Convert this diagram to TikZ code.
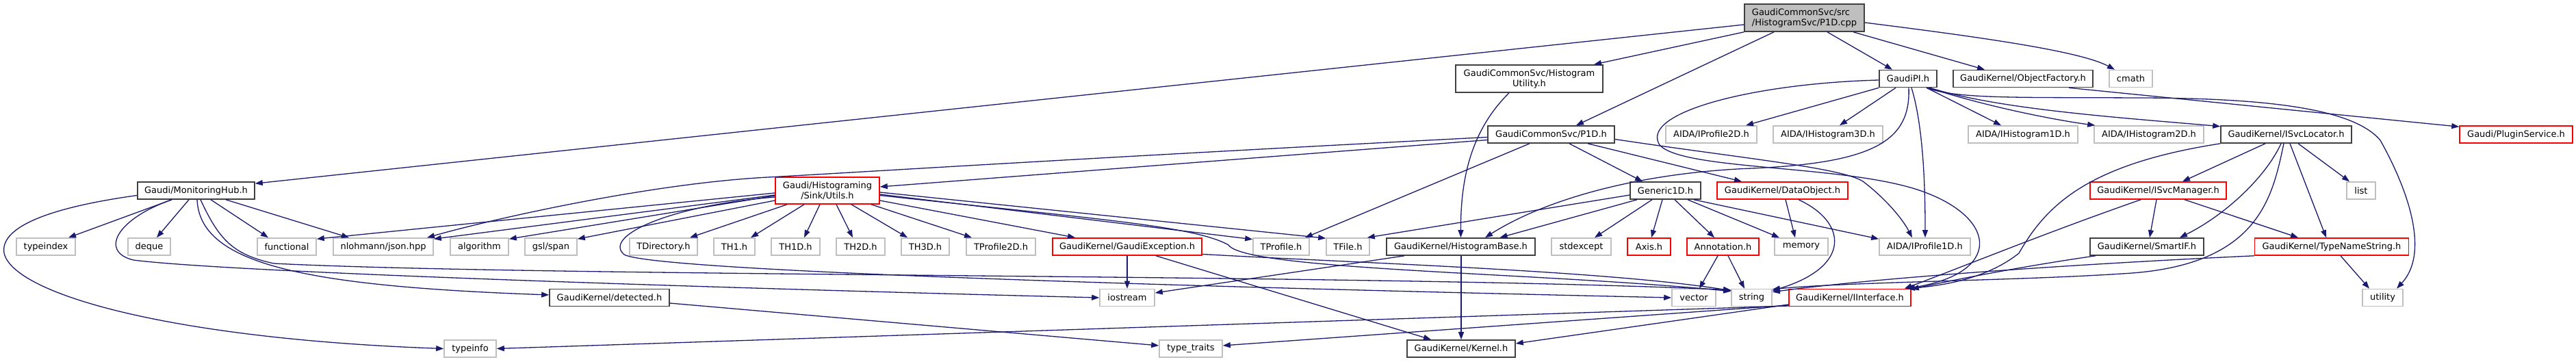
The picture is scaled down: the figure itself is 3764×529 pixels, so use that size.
\documentclass[tikz,border=0pt]{standalone}
\usepackage{fontspec}
\setmainfont{DejaVu Sans}
\usetikzlibrary{arrows.meta}
\definecolor{edgeblue}{HTML}{191970}
\definecolor{gborder}{HTML}{BFBFBF}
\definecolor{dborder}{HTML}{404040}
\definecolor{mainfill}{HTML}{BFBFBF}
\definecolor{tred}{HTML}{FF0000}
\tikzset{
  nb/.style={rectangle, draw, line width=1.6pt, inner sep=0pt, minimum height=25pt,
    font=\fontsize{13}{15}\selectfont, align=center, text=black},
  lk/.style={nb, draw=dborder},
  ex/.style={nb, draw=gborder},
  tr/.style={nb, draw=tred},
  mn/.style={nb, draw=dborder, fill=mainfill, align=left},
  dep/.style={draw=edgeblue, line width=1.3pt, -{Triangle[length=11pt,width=8pt]}}
}
\begin{document}
\begin{tikzpicture}[x=1pt,y=-1pt]
\useasboundingbox (0,0) rectangle (3764,529);
\fill[white] (0,0) rectangle (3764,529);

% ---- nodes ----
\node[mn, minimum width=175pt, minimum height=40pt] (main) at (2636.5,26) {GaudiCommonSvc/src\\/HistogramSvc/P1D.cpp};
\node[lk, minimum width=171pt] (hub) at (286.5,278.5) {Gaudi/MonitoringHub.h};
\node[lk, minimum width=215pt, minimum height=40pt] (hutil) at (2234.5,115) {GaudiCommonSvc/Histogram\\Utility.h};
\node[lk, minimum width=185pt] (p1dh) at (2266.5,196.5) {GaudiCommonSvc/P1D.h};
\node[lk, minimum width=84pt] (gpi) at (2788,115) {GaudiPI.h};
\node[lk, minimum width=204pt] (objf) at (2956,115) {GaudiKernel/ObjectFactory.h};
\node[ex, minimum width=63pt] (cmath) at (3113.5,115) {cmath};
\node[tr, minimum width=152pt, minimum height=39pt] (utils) at (1209,278.5) {Gaudi/Histograming\\/Sink/Utils.h};
\node[lk, minimum width=103pt] (gen1d) at (2433.5,278.5) {Generic1D.h};
\node[tr, minimum width=191pt] (dobj) at (2604.5,278.5) {GaudiKernel/DataObject.h};
\node[ex, minimum width=133pt] (iprof2d) at (2500.5,196.5) {AIDA/IProfile2D.h};
\node[ex, minimum width=160pt] (ih3d) at (2671,196.5) {AIDA/IHistogram3D.h};
\node[ex, minimum width=160pt] (ih1d) at (2956,196.5) {AIDA/IHistogram1D.h};
\node[ex, minimum width=160pt] (ih2d) at (3140,196.5) {AIDA/IHistogram2D.h};
\node[lk, minimum width=191pt] (isvcloc) at (3340.5,196.5) {GaudiKernel/ISvcLocator.h};
\node[tr, minimum width=165pt] (plugin) at (3676.5,196.5) {Gaudi/PluginService.h};
\node[tr, minimum width=199pt] (isvcman) at (3153.5,278.5) {GaudiKernel/ISvcManager.h};
\node[ex, minimum width=42pt] (list) at (3450,278.5) {list};
% row 5
\node[ex, minimum width=86pt] (typeindex) at (67,360.5) {typeindex};
\node[ex, minimum width=62pt] (deque) at (218,360.5) {deque};
\node[ex, minimum width=86pt] (functional) at (419,360.5) {functional};
\node[ex, minimum width=146pt] (json) at (560,360.5) {nlohmann/json.hpp};
\node[ex, minimum width=85pt] (algorithm) at (700.5,360.5) {algorithm};
\node[ex, minimum width=76pt] (gslspan) at (805,360.5) {gsl/span};
\node[ex, minimum width=99pt] (tdir) at (969.5,360.5) {TDirectory.h};
\node[ex, minimum width=60pt] (th1) at (1073,360.5) {TH1.h};
\node[ex, minimum width=71pt] (th1d) at (1162.5,360.5) {TH1D.h};
\node[ex, minimum width=71pt] (th2d) at (1257.5,360.5) {TH2D.h};
\node[ex, minimum width=70pt] (th3d) at (1352,360.5) {TH3D.h};
\node[ex, minimum width=101pt] (tprof2d) at (1462.5,360.5) {TProfile2D.h};
\node[tr, minimum width=218pt] (gexc) at (1647,360.5) {GaudiKernel/GaudiException.h};
\node[ex, minimum width=82pt] (tprof) at (1872,360.5) {TProfile.h};
\node[ex, minimum width=63pt] (tfile) at (1969.5,360.5) {TFile.h};
\node[lk, minimum width=217pt] (hbase) at (2134.5,360.5) {GaudiKernel/HistogramBase.h};
\node[ex, minimum width=87pt] (stdexcept) at (2310.5,360.5) {stdexcept};
\node[tr, minimum width=63pt] (axis) at (2409.5,360.5) {Axis.h};
\node[tr, minimum width=105pt] (annot) at (2517.5,360.5) {Annotation.h};
\node[ex, minimum width=78pt] (memory) at (2632,360.5) {memory};
\node[ex, minimum width=133pt] (iprof1d) at (2812.5,360.5) {AIDA/IProfile1D.h};
\node[lk, minimum width=166pt] (smartif) at (3137,360.5) {GaudiKernel/SmartIF.h};
\node[tr, minimum width=225pt] (tns) at (3407,360.5) {GaudiKernel/TypeNameString.h};
% row 6
\node[lk, minimum width=175pt] (detected) at (890.5,435) {GaudiKernel/detected.h};
\node[ex, minimum width=80pt] (iostream) at (1647,435) {iostream};
\node[ex, minimum width=64pt] (vector) at (2475,435) {vector};
\node[ex, minimum width=59pt] (string) at (2559.5,435) {string};
\node[tr, minimum width=178pt] (iinterface) at (2703,435) {GaudiKernel/IInterface.h};
\node[ex, minimum width=59pt] (utility) at (3481.5,435) {utility};
% row 7
\node[ex, minimum width=76pt] (typeinfo) at (687,509.5) {typeinfo};
\node[ex, minimum width=92pt] (typetraits) at (1740,509.5) {type\_traits};
\node[lk, minimum width=158pt] (kernel) at (2135,509.5) {GaudiKernel/Kernel.h};

% ---- edges: main ----
\draw[dep] ([yshift=-10pt]main.west) -- ([yshift=-3pt]hub.north east);
\draw[dep] (main.south west) -- ([xshift=94.5pt]hutil.north);
\draw[dep] ([xshift=-44.5pt]main.south) -- ([xshift=36.5pt]p1dh.north);
\draw[dep] ([xshift=33.5pt]main.south) -- ([xshift=-23pt]gpi.north);
\draw[dep] ([xshift=71.5pt]main.south) -- ([xshift=-56pt]objf.north);
\draw[dep] ([yshift=-7pt]main.east) .. controls (2900,55) and (3040,75) .. ([xshift=-23.5pt]cmath.north);

% ---- P1D.h ----
\draw[dep] ([yshift=-8pt]p1dh.west) -- ([yshift=5.5pt]utils.east);
\draw[dep] ([yshift=-4pt]p1dh.west) .. controls (1600,230) and (1250,252) .. (1122,259) .. controls (950,268) and (720,320) .. ([xshift=64pt]json.north);
\draw[dep] ([xshift=-31.5pt]p1dh.south) -- ([xshift=35pt]tprof.north);
\draw[dep] ([xshift=26.5pt]p1dh.south) -- ([xshift=-33.5pt]gen1d.north);
\draw[dep] ([xshift=53.5pt]p1dh.south) -- ([xshift=-59.5pt]dobj.north);
\draw[dep] ([yshift=-7pt]p1dh.east) .. controls (2550,232) and (2690,245) .. (2722,265) .. controls (2755,290) and (2780,320) .. ([xshift=-18.5pt]iprof1d.north);

% ---- Generic1D ----
\draw[dep] ([yshift=-6.5pt]gen1d.west) -- ([xshift=-4pt]tfile.north east);
\draw[dep] ([xshift=-41.5pt]gen1d.south) -- ([xshift=57pt]hbase.north);
\draw[dep] ([xshift=-19.5pt]gen1d.south) -- ([xshift=19.5pt]stdexcept.north);
\draw[dep] ([xshift=-4.5pt]gen1d.south) -- ([xshift=3.5pt]axis.north);
\draw[dep] ([xshift=13.5pt]gen1d.south) -- ([xshift=-12.5pt]annot.north);
\draw[dep] ([xshift=32.5pt]gen1d.south) -- ([xshift=-32pt]memory.north);
\draw[dep] ([xshift=41.5pt]gen1d.south) -- ([yshift=-2pt]iprof1d.north west);

% ---- DataObject / Annotation ----
\draw[dep] ([xshift=4.5pt]dobj.south) -- ([xshift=-9pt]memory.north);
\draw[dep] ([xshift=23.5pt]dobj.south) .. controls (2700,325) and (2705,390) .. ([yshift=-3pt]string.north east);
\draw[dep] ([xshift=-7.5pt]annot.south) -- ([xshift=8pt]vector.north);
\draw[dep] ([xshift=7.5pt]annot.south) -- ([xshift=-10.5pt]string.north);

% ---- GaudiPI ----
\draw[dep] (gpi.south west) -- ([xshift=50.5pt]iprof2d.north);
\draw[dep] ([xshift=-18pt]gpi.south) -- ([xshift=17pt]ih3d.north);
\draw[dep] ([xshift=27pt]gpi.south) -- ([xshift=-32pt]ih1d.north);
\draw[dep] ([xshift=30pt]gpi.south) .. controls (2900,155) and (3000,175) .. ([xshift=2pt]ih2d.north west);
\draw[dep] ([xshift=32pt]gpi.south) .. controls (2920,160) and (3100,172) .. ([yshift=-1.5pt]isvcloc.north west);
\draw[dep] ([xshift=5pt]gpi.south) .. controls (2812,190) and (2813,290) .. ([xshift=0.5pt]iprof1d.north);
\draw[dep] ([xshift=1pt]gpi.south) .. controls (2792,205) and (2740,238) .. (2560,246) .. controls (2400,252) and (2260,290) .. ([xshift=35.5pt]hbase.north);
\draw[dep] ([yshift=-2pt]gpi.west) .. controls (2560,122) and (2395,165) .. (2425,212) .. controls (2460,250) and (2700,240) .. (2810,280) .. controls (2920,320) and (2925,400) .. ([xshift=-8pt]iinterface.north east);
\draw[dep] ([xshift=27pt]gpi.south) .. controls (2860,145) and (2950,142) .. (3120,143) .. controls (3320,143) and (3440,160) .. (3478,205) .. controls (3520,280) and (3550,370) .. ([xshift=20.5pt]utility.north);

% ---- ObjectFactory ----
\draw[dep] ([xshift=67pt]objf.south) -- ([yshift=-2pt]plugin.north west);

% ---- ISvcLocator ----
\draw[dep] ([xshift=-30.5pt]isvcloc.south) -- ([xshift=35.5pt]isvcman.north);
\draw[dep] ([xshift=-7.5pt]isvcloc.south) .. controls (3310,260) and (3250,315) .. ([xshift=48pt]smartif.north);
\draw[dep] ([xshift=-3.5pt]isvcloc.south) .. controls (3320,290) and (3300,390) .. (3100,400) .. controls (2950,410) and (2700,412) .. ([yshift=-1pt]string.north east);
\draw[dep] ([xshift=5.5pt]isvcloc.south) -- ([xshift=-8pt]tns.north);
\draw[dep] ([xshift=17.5pt]isvcloc.south) -- ([xshift=-17pt]list.north);
\draw[dep] (isvcloc.south west) .. controls (3050,240) and (2990,300) .. (2950,370) .. controls (2900,410) and (2830,418) .. ([xshift=-6pt]iinterface.north east);

% ---- ISvcManager / SmartIF / TypeNameString ----
\draw[dep] ([xshift=-2.5pt]isvcman.south) -- ([xshift=4pt]smartif.north);
\draw[dep] ([xshift=38.5pt]isvcman.south) -- ([xshift=-49pt]tns.north);
\draw[dep] ([xshift=-25.5pt]isvcman.south) .. controls (2990,340) and (2880,385) .. ([xshift=-10pt]iinterface.north east);
\draw[dep] ([xshift=-75pt]smartif.south) .. controls (2950,390) and (2850,410) .. ([yshift=-1pt]iinterface.north east);
\draw[dep] (tns.south west) .. controls (3050,385) and (2750,405) .. ([yshift=-5pt]string.north east);
\draw[dep] ([xshift=13pt]tns.south) -- ([xshift=-19.5pt]utility.north);

% ---- IInterface ----
\draw[dep] ([yshift=-12pt]iinterface.west) -- (typeinfo.east);
\draw[dep] ([yshift=-11pt]iinterface.west) -- ([yshift=4.5pt]typetraits.east);
\draw[dep] ([yshift=-10pt]iinterface.west) -- ([yshift=7.5pt]kernel.east);

% ---- GaudiException / HistogramBase / HistogramUtility / detected ----
\draw[dep] (gexc.south) -- (iostream.north);
\draw[dep] ([xshift=42pt]gexc.south) -- ([xshift=-44pt]kernel.north);
\draw[dep] ([yshift=-11pt]gexc.east) .. controls (2000,385) and (2350,396) .. ([yshift=-3pt]string.north west);
\draw[dep] ([xshift=0.5pt]hbase.south) -- (kernel.north);
\draw[dep] ([xshift=-82.5pt]hbase.south) -- ([yshift=7pt]iostream.east);
\draw[dep] ([xshift=-29.5pt]hutil.south) .. controls (2150,190) and (2134,260) .. (hbase.north);
\draw[dep] ([yshift=-8pt]detected.east) -- ([yshift=4.5pt]typetraits.west);

% ---- MonitoringHub ----
\draw[dep] ([xshift=-35.5pt]hub.south) -- ([xshift=33pt]typeindex.north);
\draw[dep] ([xshift=-10.5pt]hub.south) -- ([xshift=11pt]deque.north);
\draw[dep] ([xshift=21.5pt]hub.south) -- ([xshift=-27pt]functional.north);
\draw[dep] ([xshift=43.5pt]hub.south) -- ([xshift=-50pt]json.north);
\draw[dep] ([yshift=-7pt]hub.west) .. controls (60,305) and (0,335) .. (6,370) .. controls (20,430) and (250,495) .. (typeinfo.west);
\draw[dep] ([xshift=1.5pt]hub.south) .. controls (292,385) and (440,418) .. ([yshift=4pt]detected.west);
\draw[dep] ([xshift=-35.5pt]hub.south) .. controls (170,320) and (145,368) .. (195,380) .. controls (350,400) and (1200,425) .. (iostream.west);
\draw[dep] ([xshift=6.5pt]hub.south) .. controls (320,350) and (340,372) .. (400,385) .. controls (800,405) and (2000,400) .. ([yshift=-2pt]string.north west);

% ---- Utils.h ----
\draw[dep] ([yshift=-3.5pt]utils.west) -- ([yshift=-2pt]functional.north east);
\draw[dep] ([yshift=-6.5pt]utils.west) -- ([yshift=-2pt]json.north east);
\draw[dep] ([yshift=-7.5pt]utils.west) -- ([yshift=-2pt]algorithm.north east);
\draw[dep] ([yshift=-14.5pt]utils.west) -- ([yshift=-2pt]gslspan.north east);
\draw[dep] ([yshift=-9.5pt]utils.west) .. controls (980,300) and (880,345) .. (912,372) .. controls (960,400) and (2000,425) .. (vector.west);
\draw[dep] ([xshift=-59pt]utils.south) -- ([xshift=38.5pt]tdir.north);
\draw[dep] ([xshift=-34pt]utils.south) -- ([xshift=24pt]th1.north);
\draw[dep] ([xshift=-11pt]utils.south) -- ([xshift=12.5pt]th1d.north);
\draw[dep] ([xshift=13pt]utils.south) -- ([xshift=-11.5pt]th2d.north);
\draw[dep] ([xshift=35pt]utils.south) -- ([xshift=-26pt]th3d.north);
\draw[dep] ([xshift=64pt]utils.south) -- ([xshift=-42.5pt]tprof2d.north);
\draw[dep] ([yshift=-14.5pt]utils.east) -- ([xshift=-76pt]gexc.north);
\draw[dep] ([yshift=-5.5pt]utils.east) -- ([yshift=-2.5pt]tprof.north west);
\draw[dep] ([yshift=-2.5pt]utils.east) -- ([yshift=-1pt]tfile.north west);
\draw[dep] ([yshift=-7pt]utils.east) .. controls (1600,320) and (1745,330) .. (1795,358) .. controls (1820,395) and (2250,398) .. ([yshift=-4pt]string.north west);
\end{tikzpicture}
\end{document}
